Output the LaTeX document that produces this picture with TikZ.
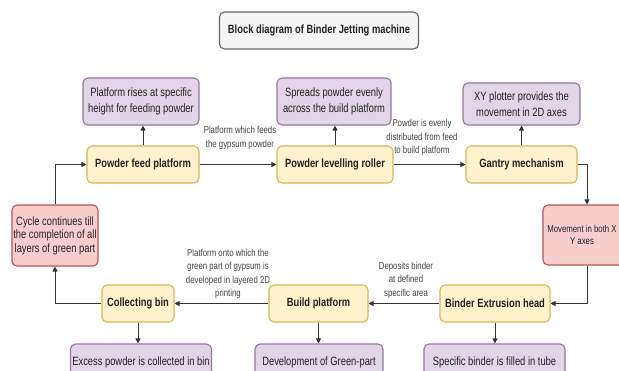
\documentclass[tikz,border=0pt]{standalone}
\usepackage{fontspec}
\setmainfont{Liberation Sans}[FakeStretch=0.78]
\usetikzlibrary{arrows.meta}
\definecolor{yfill}{HTML}{FFF2CC}
\definecolor{ydraw}{HTML}{D6B656}
\definecolor{pfill}{HTML}{E1D5E7}
\definecolor{pdraw}{HTML}{9673A6}
\definecolor{rfill}{HTML}{F8CECC}
\definecolor{rdraw}{HTML}{B85450}
\definecolor{gfill}{HTML}{F5F5F5}
\definecolor{gdraw}{HTML}{666666}
\definecolor{txt}{HTML}{222222}
\definecolor{lnc}{HTML}{333333}
\begin{document}
\begin{tikzpicture}[x=1pt,y=-1pt,
  box/.style={rounded corners=5pt, line width=1.1pt, inner sep=0pt, align=center, text=txt},
  ybox/.style={box, fill=yfill, draw=ydraw, font=\fontsize{12}{15}\selectfont\bfseries},
  pbox/.style={box, fill=pfill, draw=pdraw, font=\fontsize{12}{16}\selectfont},
  rbox/.style={box, fill=rfill, draw=rdraw},
  tbox/.style={box, fill=gfill, draw=gdraw, font=\fontsize{12}{15}\selectfont\bfseries},
  lbl/.style={align=center, text=txt!85, inner sep=0pt, font=\fontsize{10}{13.5}\selectfont},
  arr/.style={draw=lnc, line width=0.9pt, -{Triangle[width=5pt,length=5pt]}}
]
\useasboundingbox (0,0) rectangle (619,370);
\fill[white] (0,0) rectangle (619,370);

\node[tbox, minimum width=199pt, minimum height=37pt] (title) at (319,30.5) {Block diagram of Binder Jetting machine};

\node[pbox, minimum width=116pt, minimum height=47pt] (p1) at (141,101.5) {Platform rises at specific\\height for feeding powder};
\node[pbox, minimum width=114pt, minimum height=47pt] (p2) at (334,101.5) {Spreads powder evenly\\across the build platform};
\node[pbox, minimum width=117pt, minimum height=42pt] (p3) at (521.5,104) {XY plotter provides the\\movement in 2D axes};

\node[ybox, minimum width=112pt, minimum height=37pt] (y1) at (143,164.5) {Powder feed platform};
\node[ybox, minimum width=116pt, minimum height=37pt] (y2) at (335,164.5) {Powder levelling roller};
\node[ybox, minimum width=111pt, minimum height=37pt] (y3) at (521.5,164.5) {Gantry mechanism};

\node[rbox, minimum width=86pt, minimum height=61pt, font=\fontsize{12}{13.5}\selectfont] (rL) at (55,235.5) {Cycle continues till\\the completion of all\\layers of green part};
\node[rbox, minimum width=88pt, minimum height=60pt] (rR) at (587,235) {};
\node[align=center, inner sep=0pt, text=txt, font=\fontsize{10}{12}\selectfont] (rRt) at (582,235) {Movement in both X\\Y axes};

\node[ybox, minimum width=110pt, minimum height=37pt] (b1) at (495,303.5) {Binder Extrusion head};
\node[ybox, minimum width=99pt, minimum height=37pt] (b2) at (318.5,303.5) {Build platform};
\node[ybox, minimum width=72pt, minimum height=37pt] (b3) at (138,303.5) {Collecting bin};

\node[pbox, minimum width=141pt, minimum height=36pt] (q1) at (141,362) {Excess powder is collected in bin};
\node[pbox, minimum width=128pt, minimum height=36pt] (q2) at (319,362) {Development of Green-part};
\node[pbox, minimum width=141pt, minimum height=36pt] (q3) at (494.5,362) {Specific binder is filled in tube};

\node[lbl] (l1) at (240,138) {Platform which feeds\\the gypsum powder};
\node[lbl] (l2) at (422,137.5) {Powder is evenly\\distributed from feed\\to build platform};
\node[lbl] (l3) at (406,280) {Deposits binder\\at defined\\specific area};
\node[lbl] (l4) at (228,274) {Platform onto which the\\green part of gypsum is\\developed in layered 2D\\printing};

\draw[arr] (y1.north) -- (y1.north |- p1.south);
\draw[arr] (y2.north) -- (y2.north |- p2.south);
\draw[arr] (y3.north) -- (y3.north |- p3.south);
\draw[arr] (y1.east) -- (y2.west);
\draw[arr] (y2.east) -- (y3.west);
\draw[arr] (y3.east) -| (rR.north);
\draw[arr] (rR.south) |- (b1.east);
\draw[arr] (b1.west) -- (b2.east);
\draw[arr] (b2.west) -- (b3.east);
\draw[arr] (b3.west) -| (rL.south);
\draw[arr] (rL.north) |- (y1.west);
\draw[arr] (b1.south) -- (b1.south |- q3.north);
\draw[arr] (b2.south) -- (b2.south |- q2.north);
\draw[arr] (b3.south) -- (b3.south |- q1.north);
\end{tikzpicture}
\end{document}
